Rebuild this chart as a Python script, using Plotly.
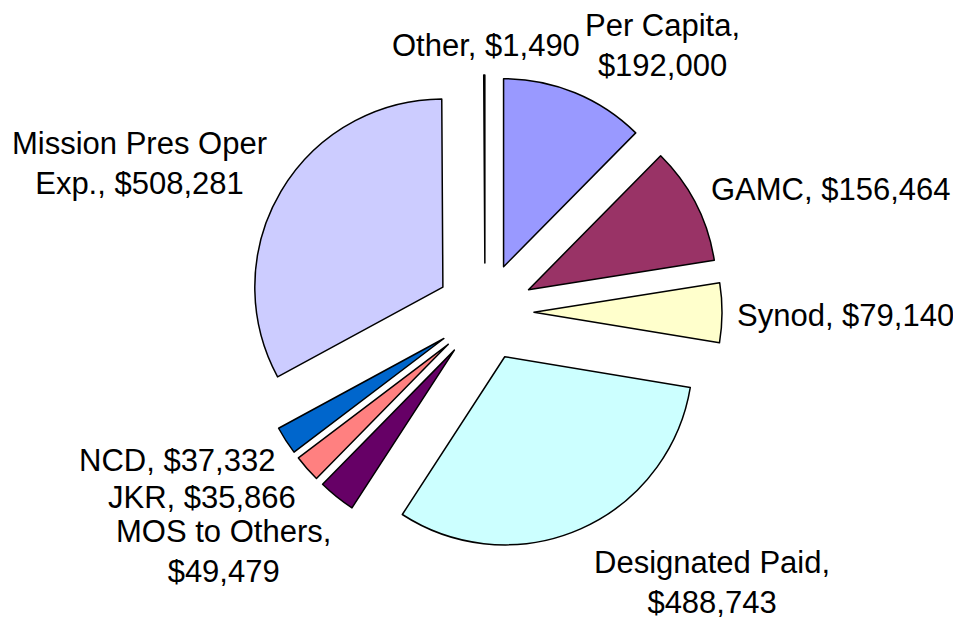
import plotly.graph_objects as go

# slices, clockwise from 12 o'clock
labels = ["Per Capita", "GAMC", "Synod", "Designated Paid", "MOS to Others",
          "JKR", "NCD", "Mission Pres Oper Exp.", "Other"]
values = [192000, 156464, 79140, 488743, 49479, 35866, 37332, 508281, 1490]
colors = ["#9999FF", "#993366", "#FFFFCC", "#CCFFFF", "#660066",
          "#FF8080", "#0066CC", "#CCCCFF", "#FFFFFF"]

# how each data label is broken into lines
label_text = ["Per Capita,<br>{v}", "GAMC, {v}", "Synod, {v}", "Designated Paid,<br>{v}",
              "MOS to Others,<br>{v}", "JKR, {v}", "NCD, {v}",
              "Mission Pres Oper<br>Exp., {v}", "Other, {v}"]
# label centres in pixels (x from left, y from top)
label_pos = [(662, 46), (831, 190), (845, 315), (712, 582), (223, 551),
             (202, 497), (177, 461), (139, 164), (486, 45)]

W, H = 961, 620
OFF = 8  # page body margin shifts the figure by this much
cx, cy, half = 485, 312, 237

fig = go.Figure(go.Pie(
    labels=labels,
    values=values,
    sort=False,
    direction="clockwise",
    rotation=0,
    pull=[0.26] * len(values),
    marker=dict(colors=colors, line=dict(color="black", width=1.5)),
    textinfo="none",
    hoverinfo="label+value",
    domain=dict(x=[(cx - OFF - half) / W, (cx - OFF + half) / W],
                y=[(H - cy + OFF - half) / H, (H - cy + OFF + half) / H]),
    showlegend=False,
))

for lab, val, tmpl, (px_, py_) in zip(labels, values, label_text, label_pos):
    fig.add_annotation(
        x=(px_ - OFF) / W, y=1 - (py_ - OFF) / H, xref="paper", yref="paper",
        text=tmpl.format(v="${:,}".format(val)),
        showarrow=False, xanchor="center", yanchor="middle", align="center",
        font=dict(family="Liberation Sans, Arial, sans-serif", size=31, color="black"),
    )

fig.update_layout(
    width=W, height=H,
    margin=dict(l=0, r=0, t=0, b=0),
    paper_bgcolor="white",
    plot_bgcolor="white",
)

fig.write_html("out.html")
